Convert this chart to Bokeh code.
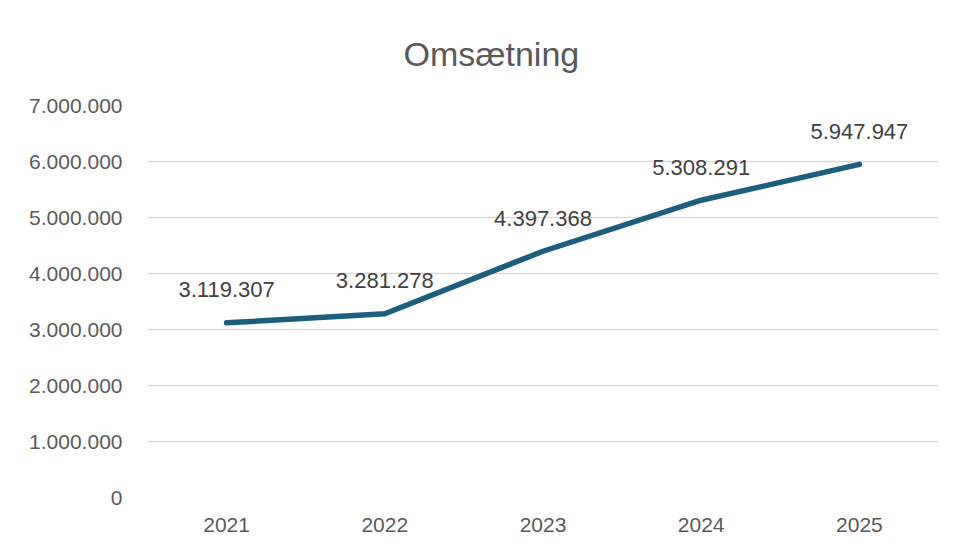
from bokeh.plotting import figure
from bokeh.models import ColumnDataSource, FixedTicker, CustomJSTickFormatter
from bokeh.core.properties import value
from bokeh.embed import file_html
from bokeh.resources import INLINE

years = ["2021", "2022", "2023", "2024", "2025"]
revenue = [3119307, 3281278, 4397368, 5308291, 5947947]
labels = ["3.119.307", "3.281.278", "4.397.368", "5.308.291", "5.947.947"]
yticks = [0, 1000000, 2000000, 3000000, 4000000, 5000000, 6000000, 7000000]

src = ColumnDataSource(dict(x=years, y=revenue, lab=labels))

p = figure(x_range=years, y_range=(0, 7000000), width=950, height=549,
           output_backend="svg", toolbar_location=None,
           min_border_left=147, min_border_right=12, min_border_top=105, min_border_bottom=52)

p.title.text = "Omsætning"
p.title.align = "left"
p.title.offset = 256
p.title.standoff = 65
p.title.text_font = "Liberation Sans"
p.title.text_font_size = "34px"
p.title.text_font_style = "normal"
p.title.text_color = "#595959"

p.line("x", "y", source=src, line_color="#1b5e7d", line_width=5.5, line_cap="round", line_join="round")
p.text("x", "y", text="lab", source=src, text_align="center", text_baseline="middle",
       y_offset=-33, text_font=value("Liberation Sans"), text_font_size="22px", text_color="#404040")

p.yaxis.ticker = FixedTicker(ticks=yticks)
p.yaxis.formatter = CustomJSTickFormatter(code="return tick.toString().replace(/\\B(?=(\\d{3})+(?!\\d))/g, '.');")
for ax in (p.xaxis, p.yaxis):
    ax.axis_line_color = None
    ax.major_tick_line_color = None
    ax.minor_tick_line_color = None
    ax.major_label_text_font = "Liberation Sans"
    ax.major_label_text_font_size = "21px"
    ax.major_label_text_color = "#595959"
p.yaxis.major_label_standoff = 19
p.xaxis.major_label_standoff = 14

p.xgrid.grid_line_color = None
p.ygrid.grid_line_color = "#d9d9d9"
p.ygrid.grid_line_width = 1.5
p.ygrid.ticker = FixedTicker(ticks=yticks)
p.outline_line_color = None
p.x_range.range_padding = 0

open("out.html", "w").write(file_html(p, INLINE))
